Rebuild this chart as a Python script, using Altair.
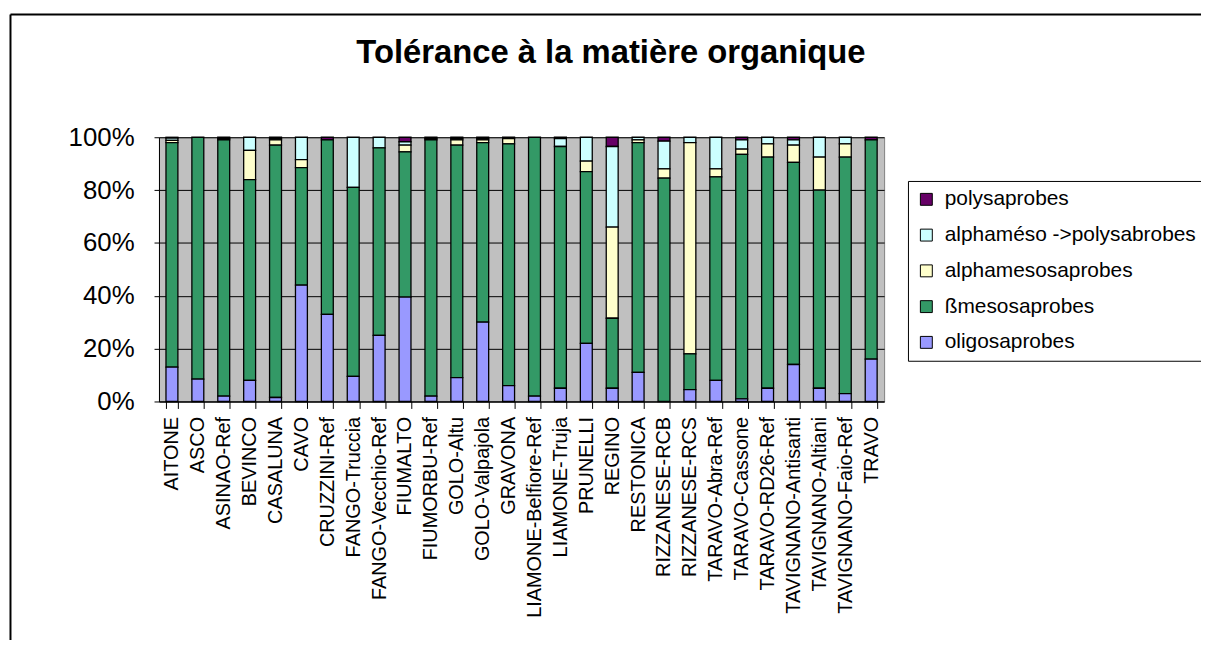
import altair as alt
import pandas as pd

stations = ["AITONE", "ASCO", "ASINAO-Ref", "BEVINCO", "CASALUNA", "CAVO",
            "CRUZZINI-Ref", "FANGO-Truccia", "FANGO-Vecchio-Ref", "FIUMALTO",
            "FIUMORBU-Ref", "GOLO-Altu", "GOLO-Valpajola", "GRAVONA",
            "LIAMONE-Belfiore-Ref", "LIAMONE-Truja", "PRUNELLI", "REGINO",
            "RESTONICA", "RIZZANESE-RCB", "RIZZANESE-RCS", "TARAVO-Abra-Ref",
            "TARAVO-Cassone", "TARAVO-RD26-Ref", "TAVIGNANO-Antisanti",
            "TAVIGNANO-Altiani", "TAVIGNANO-Faio-Ref", "TRAVO"]

oligo = [13, 8.5, 2, 8, 1.5, 44, 33, 9.5, 25, 39.5, 2, 9, 30, 6, 2, 5, 22, 5,
         11, 0, 4.5, 8, 1, 5, 14, 5, 3, 16]
beta = [85, 91.5, 97, 76, 95.5, 44.5, 66, 71.5, 71, 55, 97, 88, 68, 91.5, 98,
        91.5, 65, 26.5, 87, 84.5, 13.5, 77, 92.5, 87.5, 76.5, 75, 89.5, 83]
alpha = [0.8, 0, 0.5, 11, 2, 3, 0, 0, 0, 2.5, 0.5, 2, 1, 2, 0, 0, 4, 34.5,
         1, 3.5, 80, 3, 2, 5, 6.5, 12.5, 5, 0]
alphapoly = [0.9, 0, 0, 5, 0.5, 8.5, 0, 19, 4, 1.3, 0, 0.5, 0.5, 0, 0, 3, 9,
             30.5, 1, 10.5, 2, 12, 3.5, 2.5, 2, 7.5, 2.5, 0]
poly = [0.3, 0, 0.5, 0, 0.5, 0, 1, 0, 0, 1.7, 0.5, 0.5, 0.5, 0.5, 0, 0.5, 0,
        3.5, 0, 1.5, 0, 0, 1, 0, 1, 0, 0, 1]

series_names = ["polysaprobes", "alphaméso ->polysabrobes", "alphamesosaprobes",
                "ßmesosaprobes", "oligosaprobes"]
series_colors = ["#660066", "#CCFFFF", "#FFFFCC", "#339966", "#9999FF"]
stack_rank = {"oligosaprobes": 0, "ßmesosaprobes": 1, "alphamesosaprobes": 2,
              "alphaméso ->polysabrobes": 3, "polysaprobes": 4}

title_text = "Tolérance à la matière organique"

rows = []
for name, vals in zip(series_names, [poly, alphapoly, alpha, beta, oligo]):
    for st, v in zip(stations, vals):
        rows.append({"station": st, "series": name, "value": v,
                     "ord": stack_rank[name]})
df = pd.DataFrame(rows)

FONT = "Liberation Sans"
W, H = 730, 266

bars = alt.Chart(df).transform_filter("datum.value > 0").mark_bar(
    stroke="black", strokeWidth=1.3
).encode(
    x=alt.X("station:N", sort=stations,
            scale=alt.Scale(paddingInner=0.54, paddingOuter=0.27),
            axis=alt.Axis(title=None, labelAngle=-90, labelFontSize=20,
                          labelFont=FONT, labelColor="black", tickBand="extent",
                          tickSize=7, tickColor="black", domainColor="black",
                          labelPadding=8, labelOverlap=False, labelLimit=400)),
    y=alt.Y("value:Q", stack="normalize", scale=alt.Scale(domain=[0, 1]),
            axis=alt.Axis(title=None, format=".0%",
                          values=[0, 0.2, 0.4, 0.6, 0.8, 1.0],
                          labelFontSize=26, labelFont=FONT, labelColor="black",
                          tickSize=5, tickColor="black", domainColor="black",
                          labelPadding=20, grid=True, gridColor="black",
                          gridOpacity=1)),
    color=alt.Color("series:N",
                    scale=alt.Scale(domain=series_names, range=series_colors),
                    legend=alt.Legend(title=None, orient="none", legendX=754,
                                      legendY=44, symbolType="square",
                                      symbolSize=144, symbolStrokeColor="black",
                                      symbolStrokeWidth=1, labelFont=FONT,
                                      labelFontSize=21, labelColor="black",
                                      labelLimit=400, labelOffset=8,
                                      rowPadding=14, padding=8,
                                      fillColor="white", strokeColor="black")),
    order=alt.Order("ord:Q", sort="ascending"),
)

one = alt.Data(values=[{}])

title = alt.Chart(one).mark_text(
    text=title_text, font=FONT, fontSize=33, fontWeight="bold",
    align="center", baseline="alphabetic", color="black"
).encode(x=alt.value(455), y=alt.value(-75))

frame_top = alt.Chart(one).mark_rule(color="black", strokeWidth=2).encode(
    x=alt.value(-149.5), x2=alt.value(W + 330), y=alt.value(-123.5))
frame_left = alt.Chart(one).mark_rule(color="black", strokeWidth=2).encode(
    x=alt.value(-149.5), y=alt.value(-123.5), y2=alt.value(H + 250))

chart = alt.layer(bars, title, frame_top, frame_left).properties(
    width=W, height=H,
    autosize=alt.AutoSizeParams(type="none"),
    padding={"left": 152, "top": 128, "right": 319, "bottom": 238},
    background="white",
).configure_view(fill="#C0C0C0", stroke="#808080")

chart.save("out.html", embed_options={"renderer": "svg", "actions": False})
